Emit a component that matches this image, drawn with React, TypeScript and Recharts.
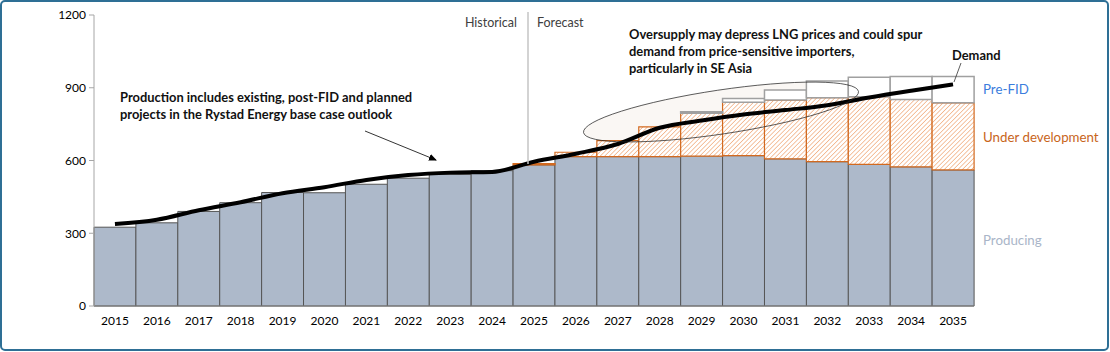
import React from 'react';
import { ComposedChart, Bar, Line, XAxis, YAxis } from 'recharts';

const years = [
  '2015', '2016', '2017', '2018', '2019', '2020', '2021', '2022', '2023', '2024', '2025',
  '2026', '2027', '2028', '2029', '2030', '2031', '2032', '2033', '2034', '2035',
];
const producing = [325, 343, 390, 426, 468, 467, 502, 527, 543, 558, 582, 616, 616, 616, 618, 620, 607, 595, 584, 574, 561];
const underDevelopment = [null, null, null, null, null, null, null, null, null, null, 5, 18, 66, 123, 177, 220, 242, 264, 279, 278, 277];
const preFid = [null, null, null, null, null, null, null, null, null, null, null, null, null, null, 6, 16, 42, 69, 80, 94, 108];
const demand = [338, 356, 395, 428, 465, 490, 520, 540, 550, 553, 595, 628, 668, 735, 765, 790, 808, 828, 860, 888, 914];
const yTicks = [0, 300, 600, 900, 1200];

const data = years.map((year, i) => ({
  year,
  producing: producing[i],
  underDevelopment: underDevelopment[i],
  preFid: preFid[i],
  demand: demand[i],
}));

const FONT = 'Lato, "Noto Sans", sans-serif';
const ELLIPSE = { cx: 721, cy: 112, rx: 139, ry: 22, transform: 'rotate(-8.5 721 112)' };

const Overlay: React.FC = () => (
  <svg width={1110} height={352} style={{ position: 'absolute', left: 0, top: 0, pointerEvents: 'none' }} fontFamily={FONT}>
    <defs>
      <marker id="arrowHead" markerWidth="8" markerHeight="8" refX="7" refY="4" orient="auto" markerUnits="userSpaceOnUse">
        <path d="M0,0.5 L8,4 L0,7.5 Z" fill="#000" />
      </marker>
    </defs>
    <rect x={1} y={1} width={1107} height={349} rx={4} fill="none" stroke="#2e6f95" strokeWidth={2} />

    {/* historical / forecast split */}
    <line x1={528} y1={12} x2={528} y2={164} stroke="#c4c4c4" strokeWidth={1.5} />
    <text x={517} y={27} textAnchor="end" fontSize={12.5} fill="#404040">Historical</text>
    <text x={537} y={27} fontSize={12.5} fill="#404040">Forecast</text>

    {/* oversupply ellipse outline */}
    <ellipse {...ELLIPSE} fill="none" stroke="#222" strokeWidth={0.7} />

    <g fontWeight={700} fontSize={12.9} fill="#111">
      <text x={120} y={102}>Production includes existing, post-FID and planned</text>
      <text x={120} y={119}>projects in the Rystad Energy base case outlook</text>
      <text x={629} y={39}>Oversupply may depress LNG prices and could spur</text>
      <text x={629} y={56}>demand from price-sensitive importers,</text>
      <text x={629} y={73}>particularly in SE Asia</text>
      <text x={952} y={60}>Demand</text>
    </g>
    <line x1={365} y1={131} x2={436} y2={160} stroke="#000" strokeWidth={0.8} markerEnd="url(#arrowHead)" />
    <line x1={961} y1={63} x2={954} y2={82} stroke="#333" strokeWidth={0.8} />

    <g fontSize={13.3}>
      <text x={983} y={94} fill="#3b7ddd">Pre-FID</text>
      <text x={983} y={142} fill="#c8651b">Under development</text>
      <text x={983} y={245} fill="#a9b5c8">Producing</text>
    </g>
  </svg>
);

export default function App() {
  return (
    <div style={{ position: 'fixed', left: 0, top: 0, width: 1110, height: 352, background: '#fff', fontFamily: FONT }}>
      <ComposedChart width={1110} height={352} data={data} margin={{ top: 15, right: 136, bottom: 16, left: 0 }} barCategoryGap={0} barGap={0}>
        <defs>
          <pattern id="hatch" patternUnits="userSpaceOnUse" width={3.2} height={3.2} patternTransform="rotate(45)">
            <rect width={3.2} height={3.2} fill="#fff" />
            <line x1={0} y1={0} x2={0} y2={3.2} stroke="#ec9458" strokeWidth={1.1} />
          </pattern>
        </defs>
        {/* faint ellipse tint behind the bars */}
        <ellipse {...ELLIPSE} fill="#f7f2ec" fillOpacity={0.6} stroke="none" />
        <XAxis
          dataKey="year"
          height={30}
          tickLine={false}
          tickSize={0}
          tickMargin={10}
          axisLine={{ stroke: '#808080' }}
          tick={{ fontSize: 12, fill: '#000' }}
          interval={0}
        />
        <YAxis
          width={94}
          domain={[0, 1200]}
          ticks={yTicks}
          tickSize={5}
          tickMargin={3}
          axisLine={{ stroke: '#a6a6a6' }}
          tickLine={{ stroke: '#a6a6a6' }}
          tick={{ fontSize: 12, fill: '#000' }}
        />
        <Bar dataKey="producing" stackId="s" fill="#adb9ca" stroke="#555" strokeWidth={1} isAnimationActive={false} />
        <Bar dataKey="underDevelopment" stackId="s" fill="url(#hatch)" stroke="#d2691f" strokeWidth={1.2} isAnimationActive={false} />
        <Bar dataKey="preFid" stackId="s" fill="#fff" stroke="#a0a0a0" strokeWidth={1.5} isAnimationActive={false} />
        <Line dataKey="demand" type="monotone" stroke="#000" strokeWidth={4} dot={false} isAnimationActive={false} />
      </ComposedChart>
      <Overlay />
    </div>
  );
}
